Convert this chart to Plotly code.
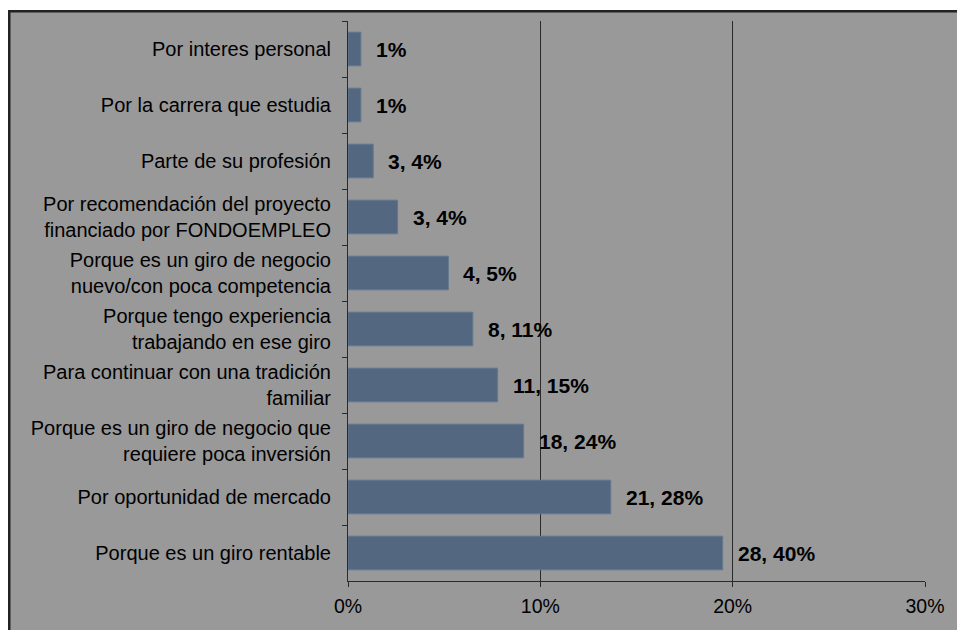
import plotly.graph_objects as go

# categories top to bottom
categorias = [
    "Por interes personal",
    "Por la carrera que estudia",
    "Parte de su profesión",
    "Por recomendación del proyecto<br>financiado por FONDOEMPLEO",
    "Porque es un giro de negocio<br>nuevo/con poca competencia",
    "Porque tengo experiencia<br>trabajando en ese giro",
    "Para continuar con una tradición<br>familiar",
    "Porque es un giro de negocio que<br>requiere poca inversión",
    "Por oportunidad de mercado",
    "Porque es un giro rentable",
]
# bar lengths (%)
valores = [0.67, 0.67, 1.31, 2.58, 5.22, 6.49, 7.78, 9.13, 13.66, 19.48]
etiquetas = ["1%", "1%", "3, 4%", "3, 4%", "4, 5%", "8, 11%",
             "11, 15%", "18, 24%", "21, 28%", "28, 40%"]

W, H = 957, 630
L, R, T, B = 348, 32, 21, 49
pw, ph = W - L - R, H - T - B

fig = go.Figure()
fig.add_trace(go.Bar(
    x=valores, y=categorias, orientation="h",
    marker=dict(color="#536780", line=dict(color="#64788f", width=1)),
    width=0.6,
))

for v, c, t in zip(valores, categorias, etiquetas):
    fig.add_annotation(x=v, y=c, text="<b>%s</b>" % t, showarrow=False,
                       xanchor="left", xshift=13,
                       font=dict(family="Arial, Liberation Sans", size=21, color="black"))

# gray chart area, border only on top and left (rest is cropped)
x0 = (8 - L) / pw
x1 = (W + 5 - L) / pw
y0 = -(B + 5) / ph
fig.add_shape(type="rect", xref="paper", yref="paper", layer="below",
              x0=x0, x1=x1, y0=y0, y1=1 + (T - 10) / ph,
              fillcolor="#999999", line=dict(width=0))
fig.add_shape(type="rect", xref="paper", yref="paper", layer="below",
              x0=x0, x1=(10.5 - L) / pw, y0=y0, y1=1 + (T - 10) / ph,
              fillcolor="#222222", line=dict(width=0))
fig.add_shape(type="rect", xref="paper", yref="paper", layer="below",
              x0=x0, x1=x1, y0=1 + (T - 12.5) / ph, y1=1 + (T - 10) / ph,
              fillcolor="#222222", line=dict(width=0))

fig.update_layout(
    width=W, height=H,
    margin=dict(l=L, r=R, t=T, b=B),
    paper_bgcolor="white", plot_bgcolor="rgba(0,0,0,0)",
    showlegend=False,
    font=dict(family="Arial, Liberation Sans", size=20, color="black"),
    xaxis=dict(range=[0, 30], dtick=10, ticksuffix="%", showgrid=True,
               gridcolor="#2a2a2a", gridwidth=1, zeroline=False,
               showline=True, linecolor="#2a2a2a", linewidth=1,
               ticks="outside", ticklen=5, tickcolor="#2a2a2a",
               ticklabelstandoff=3, tickfont=dict(size=19.5),
               automargin=False),
    yaxis=dict(autorange="reversed", showgrid=False, zeroline=False,
               showline=True, linecolor="#2a2a2a", linewidth=1,
               ticks="outside", ticklen=5, tickcolor="#2a2a2a",
               tickson="boundaries", ticklabelstandoff=12,
               tickfont=dict(size=20), automargin=False),
)

# page without body margin / scrollbars so the figure fills the window
fig.write_html("out.html", config={"displayModeBar": False},
               post_script="document.body.style.margin='0';"
               "document.documentElement.style.overflow='hidden';")
